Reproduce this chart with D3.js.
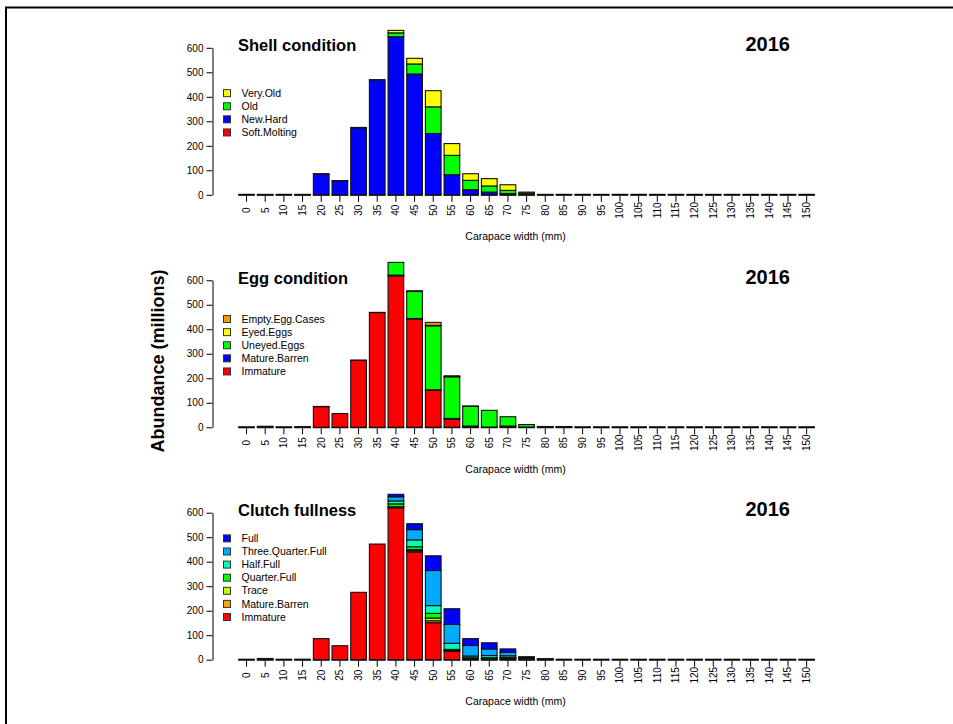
<!DOCTYPE html>
<html>
<head>
<meta charset="utf-8">
<script src="https://cdn.jsdelivr.net/npm/d3@7"></script>
<style>
  body { margin: 0; background: #fff; }
  svg { display: block; font-family: "Liberation Sans", Arial, sans-serif; }
</style>
</head>
<body>
<svg id="chart" width="953" height="724"></svg>
<script>
// ---------- DATA ----------
const bins = ["0","5","10","15","20","25","30","35","40","45","50","55","60","65","70","75",
              "80","85","90","95","100","105","110","115","120","125","130","135","140","145","150"];
const yTicks = [0, 100, 200, 300, 400, 500, 600];
const year = "2016";

// Shell condition
const shellSoftMolting = [0,0,0,0,0,0,0,0,0,0,0,0,0,0,0,0,0,0,0,0,0,0,0,0,0,0,0,0,0,0,0];
const shellNewHard     = [0,1,0,1,85,57,273,468,645,493,250,82,21,11,5,2,1,0,0,0,0,0,0,0,0,0,0,0,0,0,0];
const shellOld         = [0,0,0,0,1,1,2,2,16,41,109,79,38,25,13,4,0,0,0,0,0,0,0,0,0,0,0,0,0,0,0];
const shellVeryOld     = [0,0,0,0,0,0,0,0,10,23,66,48,27,30,23,5,0,0,0,0,0,0,0,0,0,0,0,0,0,0,0];

// Egg condition
const eggImmature      = [0,4,0,2,84,56,273,468,618,442,152,33,3,1,3,1,1,1,0,0,0,0,0,0,0,0,0,0,0,0,0];
const eggMatureBarren  = [0,0,0,0,1,0,1,1,3,2,1,3,2,0,2,0,0,0,0,0,0,0,0,0,0,0,0,0,0,0,0];
const eggUneyed        = [0,0,0,0,0,0,0,0,52,110,261,170,80,68,38,10,2,2,0,0,0,0,0,0,0,0,0,0,0,0,0];
const eggEyed          = [0,0,0,0,0,0,0,0,0,1,2,1,0,0,0,0,0,0,0,0,0,0,0,0,0,0,0,0,0,0,0];
const eggEmptyCases    = [0,0,0,0,0,0,0,0,0,2,12,3,2,0,0,0,0,0,0,0,0,0,0,0,0,0,0,0,0,0,0];

// Clutch fullness
const clutchImmature     = [0,5,0,1,86,57,275,472,620,440,151,34,3,1,3,2,1,0,0,0,0,0,0,0,0,0,0,0,0,0,0];
const clutchMatureBarren = [0,0,0,0,0,0,0,0,2,5,8,2,1,1,1,0,0,0,0,0,0,0,0,0,0,0,0,0,0,0,0];
const clutchTrace        = [0,0,0,0,0,0,0,0,2,4,11,2,1,2,1,0,0,0,0,0,0,0,0,0,0,0,0,0,0,0,0];
const clutchQuarter      = [0,0,0,0,0,0,0,0,12,12,19,4,3,4,4,3,1,0,0,0,0,0,0,0,0,0,0,0,0,0,0];
const clutchHalf         = [0,0,0,0,0,0,0,0,12,28,32,25,7,9,7,2,1,0,0,0,0,0,0,0,0,0,0,0,0,0,0];
const clutchThreeQuarter = [0,0,0,0,0,0,0,0,17,42,143,77,43,27,14,3,1,0,0,0,0,0,0,0,0,0,0,0,0,0,0];
const clutchFull         = [0,0,0,0,0,0,0,0,10,24,60,64,28,25,14,2,0,0,0,0,0,0,0,0,0,0,0,0,0,0,0];

const panels = [
  { title: "Shell condition",
    series: [
      { name: "Soft.Molting", values: shellSoftMolting, color: "#ff0000" },
      { name: "New.Hard",     values: shellNewHard,     color: "#0000ff" },
      { name: "Old",          values: shellOld,         color: "#00ff00" },
      { name: "Very.Old",     values: shellVeryOld,     color: "#ffff00" } ] },
  { title: "Egg condition",
    series: [
      { name: "Immature",         values: eggImmature,     color: "#ff0000" },
      { name: "Mature.Barren",    values: eggMatureBarren, color: "#0000ff" },
      { name: "Uneyed.Eggs",      values: eggUneyed,       color: "#00ff00" },
      { name: "Eyed.Eggs",        values: eggEyed,         color: "#ffff00" },
      { name: "Empty.Egg.Cases",  values: eggEmptyCases,   color: "#ff9900" } ] },
  { title: "Clutch fullness",
    series: [
      { name: "Immature",           values: clutchImmature,     color: "#ff0000" },
      { name: "Mature.Barren",      values: clutchMatureBarren, color: "#ffa500" },
      { name: "Trace",              values: clutchTrace,        color: "#bfff00" },
      { name: "Quarter.Full",       values: clutchQuarter,      color: "#00ff00" },
      { name: "Half.Full",          values: clutchHalf,         color: "#00ffb4" },
      { name: "Three.Quarter.Full", values: clutchThreeQuarter, color: "#00aaff" },
      { name: "Full",               values: clutchFull,         color: "#0000ff" } ] }
];

// ---------- LAYOUT ----------
const svg = d3.select("#chart");
const baseY = [194.8, 427.25, 659.7];
const plotH = 147;
const axisX = 212.5;

// outer frame (extends beyond the window on right/bottom)
svg.append("rect").attr("x", 6).attr("y", 7.5).attr("width", 1200).attr("height", 1200)
  .attr("fill", "none").attr("stroke", "#000").attr("stroke-width", 2);

const x = d3.scaleBand().domain(bins).range([237.2, 816]).paddingInner(0.16).paddingOuter(0.08);

panels.forEach((p, pi) => {
  const y0 = baseY[pi];
  const y = d3.scaleLinear().domain([0, 600]).range([y0, y0 - plotH]);
  const g = svg.append("g");

  // stacked data
  const rows = bins.map((b, i) => {
    const r = { bin: b };
    p.series.forEach(s => r[s.name] = s.values[i]);
    return r;
  });
  const stack = d3.stack().keys(p.series.map(s => s.name))(rows);

  // zero-level bar outlines
  g.selectAll("line.base").data(bins).join("line")
    .attr("x1", d => x(d) - 0.5).attr("x2", d => x(d) + x.bandwidth() + 0.5)
    .attr("y1", y0).attr("y2", y0)
    .attr("stroke", "#000").attr("stroke-width", 2);

  stack.forEach((layer, li) => {
    g.append("g").selectAll("rect").data(layer.filter(d => d[1] - d[0] > 0)).join("rect")
      .attr("x", d => x(d.data.bin))
      .attr("width", x.bandwidth())
      .attr("y", d => y(d[1]))
      .attr("height", d => y(d[0]) - y(d[1]))
      .attr("fill", p.series[li].color)
      .attr("stroke", "#111").attr("stroke-width", 1.1);
  });

  // y axis
  const ya = g.append("g").attr("transform", `translate(${axisX},0)`)
    .call(d3.axisLeft(y).tickValues(yTicks).tickSize(6).tickSizeOuter(0).tickPadding(3));
  ya.selectAll("text").attr("font-size", 10).attr("fill", "#000")
    .style("font-family", '"Liberation Sans", Arial, sans-serif');
  ya.selectAll("line,path").attr("stroke", "#000");

  // x axis
  const xa = g.append("g").attr("transform", `translate(0,${y0})`)
    .call(d3.axisBottom(x).tickSize(7).tickSizeOuter(0));
  xa.select(".domain").remove();
  xa.selectAll("line").attr("stroke", "#000").attr("y1", 1);
  xa.selectAll("text")
    .attr("x", 0).attr("y", 0).attr("dy", "0.35em")
    .attr("text-anchor", "middle")
    .attr("transform", "translate(0,15.5) rotate(-90)")
    .attr("font-size", 10).attr("fill", "#000")
    .style("font-family", '"Liberation Sans", Arial, sans-serif');

  // x axis title
  g.append("text").attr("x", 515.5).attr("y", y0 + 42).attr("dy", "0.35em")
    .attr("text-anchor", "middle").attr("font-size", 10.5).text("Carapace width (mm)");

  // titles
  g.append("text").attr("x", 238).attr("y", y0 - 143.5)
    .attr("font-size", 16.5).attr("font-weight", "bold").text(p.title);
  g.append("text").attr("x", 790).attr("y", y0 - 143.5).attr("text-anchor", "end")
    .attr("font-size", 20).attr("font-weight", "bold").text(year);

  // legend (reverse order, vertically centred)
  const leg = p.series.slice().reverse();
  const rowH = 13.1;
  const top = y0 - 82 - (leg.length - 1) * rowH / 2;
  const lg = g.append("g");
  leg.forEach((s, i) => {
    const cy = top + i * rowH;
    lg.append("rect").attr("x", 223.5).attr("y", cy - 3.5).attr("width", 7).attr("height", 7)
      .attr("fill", s.color).attr("stroke", "#333").attr("stroke-width", 1);
    lg.append("text").attr("x", 241.5).attr("y", cy).attr("dy", "0.35em")
      .attr("font-size", 10.5).text(s.name);
  });
});

// shared y title
svg.append("text")
  .attr("transform", "translate(158,361) rotate(-90)")
  .attr("text-anchor", "middle").attr("dy", "0.35em")
  .attr("font-size", 18).attr("font-weight", "bold")
  .text("Abundance (millions)");
</script>
</body>
</html>
